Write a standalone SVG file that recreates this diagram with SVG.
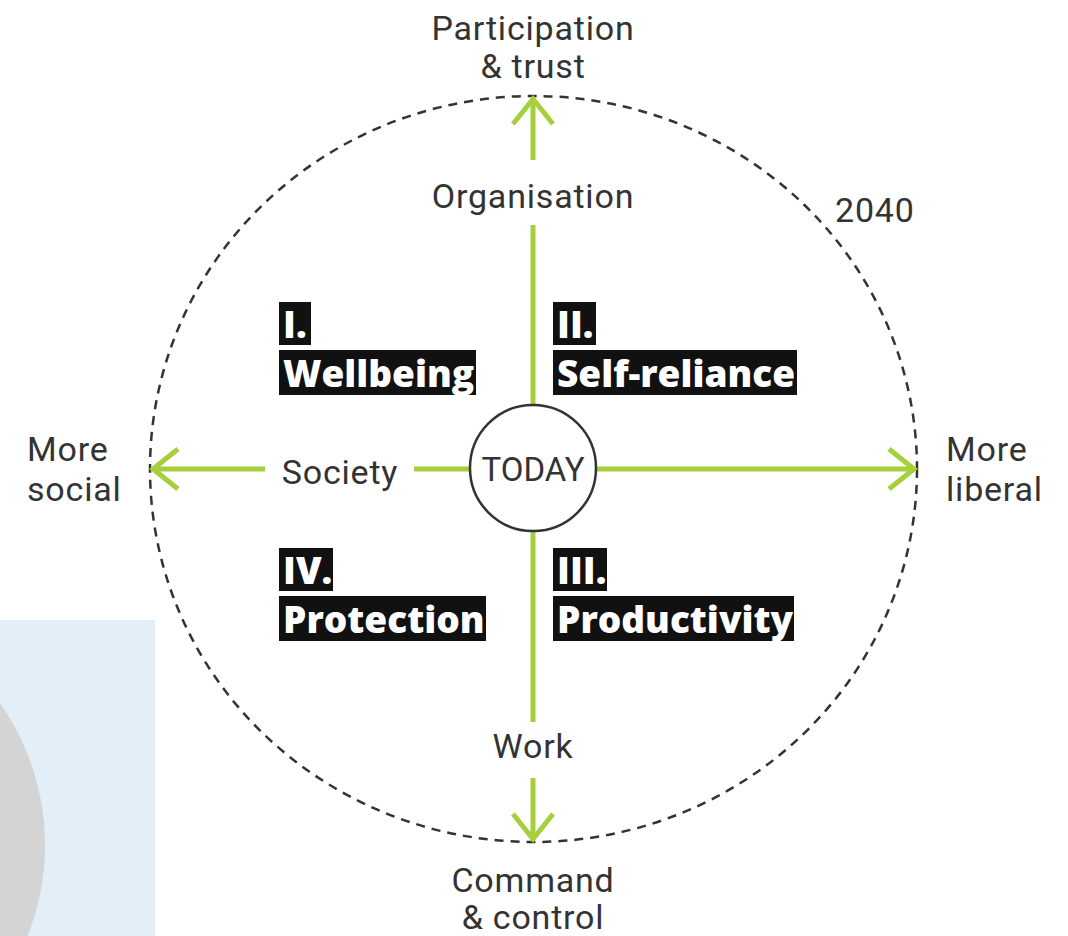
<svg xmlns="http://www.w3.org/2000/svg" width="1068" height="936" viewBox="0 0 1068 936">
<style>
.lbl{font-family:Roboto,"Liberation Sans",sans-serif;font-size:34px;letter-spacing:0.8px;fill:#333;text-anchor:middle}
.lbl-l{font-family:Roboto,"Liberation Sans",sans-serif;font-size:34px;letter-spacing:0.8px;fill:#333}
.box{fill:#111}
.bt{font-family:"Open Sans","Liberation Sans",sans-serif;font-size:37px;font-weight:800;fill:#fff}
.axis{stroke:#a6cf3c;stroke-width:5;fill:none}
</style>
<defs>
<marker id="ah" markerUnits="userSpaceOnUse" markerWidth="60" markerHeight="60" viewBox="-30 -30 60 60" refX="0" refY="0" orient="auto">
<path d="M-25,-20 L0,0 L-25,20" fill="none" stroke="#a6cf3c" stroke-width="5"/>
</marker>
</defs>
<rect x="0" y="620" width="155" height="316" fill="#e3eff8"/>
<circle cx="-201" cy="845" r="246" fill="#d4d4d4"/>
<g id="horizon">
<ellipse cx="533.5" cy="469" rx="383.5" ry="373" fill="none" stroke="#333" stroke-width="2.5" stroke-dasharray="9 7"/>
<text class="lbl-l" x="835" y="222">2040</text>
</g>
<g id="connectors">
<line class="axis" x1="533" y1="160" x2="533" y2="99" marker-end="url(#ah)"/>
<line class="axis" x1="533" y1="225" x2="533" y2="406"/>
<line class="axis" x1="533" y1="532" x2="533" y2="722"/>
<line class="axis" x1="533" y1="778" x2="533" y2="839" marker-end="url(#ah)"/>
<line class="axis" x1="265" y1="469" x2="153" y2="469" marker-end="url(#ah)"/>
<line class="axis" x1="414" y1="469" x2="470" y2="469"/>
<line class="axis" x1="597" y1="469" x2="914" y2="469" marker-end="url(#ah)"/>
</g>
<g id="today">
<circle cx="533" cy="468" r="63" fill="#fff" stroke="#333" stroke-width="2.5"/>
<text x="533" y="481" font-family="Roboto,'Liberation Sans',sans-serif" font-size="33" fill="#333" text-anchor="middle">TODAY</text>
</g>
<g id="top-label"><text class="lbl" x="533" y="40">Participation</text><text class="lbl" x="533" y="78">&amp; trust</text></g>
<g id="organisation"><text class="lbl" x="533" y="208">Organisation</text></g>
<g id="society"><text class="lbl" x="340" y="484">Society</text></g>
<g id="work"><text class="lbl" x="533" y="758">Work</text></g>
<g id="bottom-label"><text class="lbl" x="533" y="892">Command</text><text class="lbl" x="533" y="929">&amp; control</text></g>
<g id="left-label"><text class="lbl-l" x="27" y="461">More</text><text class="lbl-l" x="27" y="501">social</text></g>
<g id="right-label"><text class="lbl-l" x="946" y="461">More</text><text class="lbl-l" x="946" y="501">liberal</text></g>
<g id="q1">
<rect class="box" x="279" y="302" width="32" height="43"/><text class="bt" x="283" y="338">I.</text>
<rect class="box" x="279" y="350" width="197" height="45"/><text class="bt" x="283" y="387">Wellbeing</text>
</g>
<g id="q2">
<rect class="box" x="553" y="302" width="43" height="43"/><text class="bt" x="557" y="338">II.</text>
<rect class="box" x="553" y="350" width="244" height="45"/><text class="bt" x="557" y="387">Self-reliance</text>
</g>
<g id="q4">
<rect class="box" x="279" y="548" width="54" height="43"/><text class="bt" x="283" y="584">IV.</text>
<rect class="box" x="279" y="596" width="207" height="45"/><text class="bt" x="283" y="633">Protection</text>
</g>
<g id="q3">
<rect class="box" x="553" y="548" width="54" height="43"/><text class="bt" x="557" y="584">III.</text>
<rect class="box" x="553" y="596" width="241" height="45"/><text class="bt" x="557" y="633">Productivity</text>
</g>
</svg>
